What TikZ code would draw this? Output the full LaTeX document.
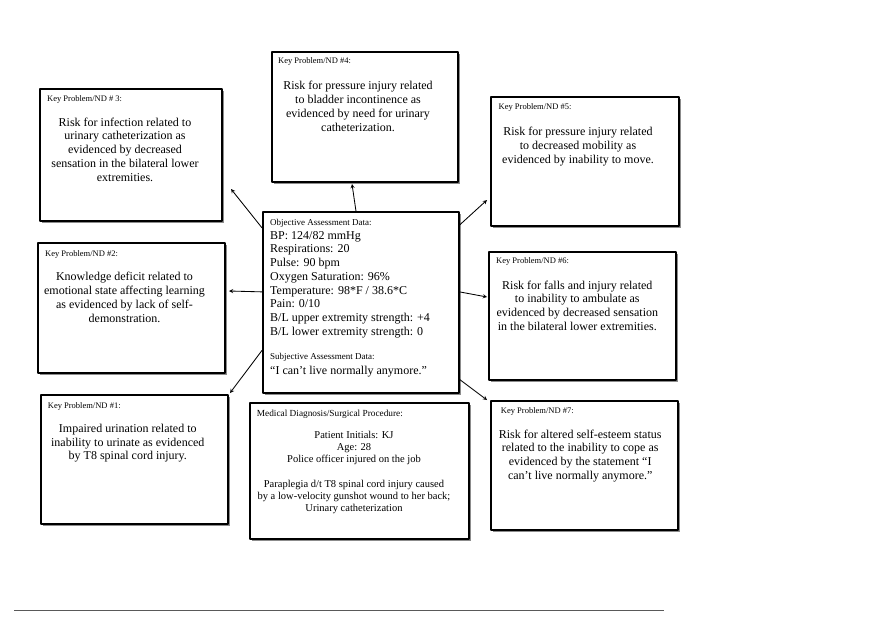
\documentclass[tikz,border=0pt]{standalone}
\usepackage{fontspec}
\setmainfont{Liberation Serif}
\usetikzlibrary{shadows,positioning}
\begin{document}
\begin{tikzpicture}[x=1pt,y=-1pt,line join=round,>=stealth, %concept map
	kbox/.style={draw,line width=1.5pt,fill=white,anchor=north west,inner sep=0pt,drop shadow={shadow xshift=2.5pt,shadow yshift=-2.5pt,fill=black!45,opacity=1}},
	ttl/.style={anchor=base west,inner sep=0pt,font=\fontsize{8.5}{10}\selectfont},
	txt/.style={anchor=base,inner sep=0pt,align=center,font=\fontsize{12}{13.75}\selectfont},
	arr/.style={->,line width=0.85pt}]
	\useasboundingbox (0,0) rectangle (880,621);
	\node[kbox,minimum width=182,minimum height=132] (p3) at (39,88) {};
	\node[kbox,minimum width=186,minimum height=130] (p4) at (271,51) {};
	\node[kbox,minimum width=188,minimum height=129] (p5) at (490,96) {};
	\node[kbox,minimum width=187,minimum height=130] (p2) at (37,242) {};
	\node[kbox,minimum width=196,minimum height=181] (obj) at (262,211) {};
	\node[kbox,minimum width=187,minimum height=128] (p6) at (488,251) {};
	\node[kbox,minimum width=187,minimum height=129] (p1) at (40,394) {};
	\node[kbox,minimum width=219,minimum height=136] (med) at (249,402) {};
	\node[kbox,minimum width=187,minimum height=129] (p7) at (490,400) {};
	% texts: base is the last line
	\node[ttl] (t3) at (47,101.5) {Key Problem/ND \# 3:};
	\node[txt] (b3) at (125,181) {Risk for infection related to\\urinary catheterization as\\evidenced by decreased\\sensation in the bilateral lower\\extremities.};
	\node[ttl] (t4) at (278,63) {Key Problem/ND \#4:};
	\node[txt] (b4) at (358,131) {Risk for pressure injury related\\to bladder incontinence as\\evidenced by need for urinary\\catheterization.};
	\node[ttl] (t5) at (498.5,109.4) {Key Problem/ND \#5:};
	\node[txt] (b5) at (578,163.2) {Risk for pressure injury related\\to decreased mobility as\\evidenced by inability to move.};
	\node[ttl] (t2) at (45,256.7) {Key Problem/ND \#2:};
	\node[txt] (b2) at (124.5,322) {Knowledge deficit related to\\emotional state affecting learning\\as evidenced by lack of self-\\demonstration.};
	\node[ttl] (t6) at (496,263.4) {Key Problem/ND \#6:};
	\node[txt] (b6) at (577.3,330.3) {Risk for falls and injury related\\to inability to ambulate as\\evidenced by decreased sensation\\in the bilateral lower extremities.};
	\node[ttl] (t1) at (47.7,408.7) {Key Problem/ND \#1:};
	\node[txt] (b1) at (127.8,459.8) {Impaired urination related to\\inability to urinate as evidenced\\by T8 spinal cord injury.};
	\node[ttl] (t7) at (500.7,413.4) {Key Problem/ND \#7:};
	\node[txt] (b7) at (580.2,479.3) {Risk for altered self-esteem status\\related to the inability to cope as\\evidenced by the statement “I\\can’t live normally anymore.”};
	\node[ttl,font=\fontsize{9}{10}\selectfont] (tobj) at (270,225.7) {Objective Assessment Data:};
	\node[txt,anchor=base west,align=left] (bobj) at (270,335.3) {BP: 124/82 mmHg\\Respirations: 20\\Pulse: 90 bpm\\Oxygen Saturation: 96\%\\Temperature: 98*F / 38.6*C\\Pain: 0/10\\B/L upper extremity strength: +4\\B/L lower extremity strength: 0};
	\node[ttl,font=\fontsize{9}{10}\selectfont] (tsub) at (270,359.7) {Subjective Assessment Data:};
	\node[txt,anchor=base west,align=left] (bsub) at (270,374) {“I can’t live normally anymore.”};
	\node[ttl,font=\fontsize{9.3}{10}\selectfont] (tmed) at (256.7,416.7) {Medical Diagnosis/Surgical Procedure:};
	\node[txt,font=\fontsize{10.5}{12.2}\selectfont] (bmed) at (354,511.7) {Patient Initials: KJ\\Age: 28\\Police officer injured on the job\\ \\Paraplegia d/t T8 spinal cord injury caused\\by a low-velocity gunshot wound to her back;\\Urinary catheterization};
	\coordinate (e3) at (231,189);
	\coordinate (e4) at (352,184);
	\coordinate (e5) at (487,200);
	\coordinate (e2) at (229,291);
	\coordinate (e1) at (230,393);
	\coordinate (e6) at (487,297);
	\coordinate (e7) at (487,400);
	\draw[arr] (obj.143)--(e3);
	\draw[arr] (obj.93)--(e4);
	\draw[arr] (obj.38)--(e5);
	\draw[arr] (obj.174)--(e2);
	\draw[arr] (obj.206)--(e1);
	\draw[arr] (obj.6)--(e6);
	\draw[arr] (obj.322)--(e7);
	\draw[black!65,line width=0.8pt] (14,610)--(664,610);
\end{tikzpicture}
\end{document}
